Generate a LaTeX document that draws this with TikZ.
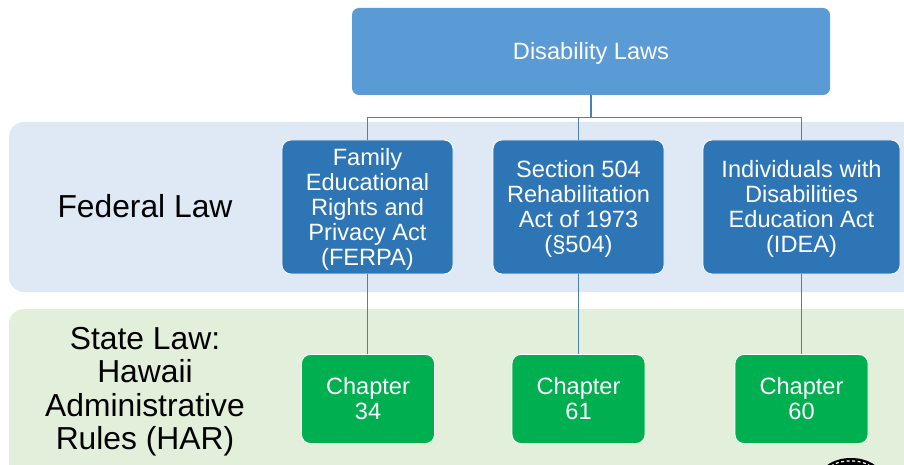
\documentclass[tikz,border=0pt]{standalone}
\usepackage{fontspec}
\setmainfont{Liberation Sans}
\usetikzlibrary{positioning}
\definecolor{toplaw}{HTML}{5B9BD5}
\definecolor{fedlaw}{HTML}{2E75B6}
\definecolor{statelaw}{HTML}{00B050}
\definecolor{fedband}{HTML}{DEE9F5}
\definecolor{stateband}{HTML}{E2EFDA}
\definecolor{linkcol}{HTML}{4A80B4}
\newcommand{\lawstrut}{\rule{0pt}{21pt}}
\tikzset{
  lawbox/.style={rounded corners=9pt, draw=white, line width=0.8pt, align=center,
    text=white, font=\fontsize{23.6}{25}\selectfont, inner sep=0pt},
  fedbox/.style={lawbox, fill=fedlaw, minimum height=134pt},
  statebox/.style={lawbox, fill=statelaw, minimum width=133pt, minimum height=89pt},
  bandlabel/.style={align=center, text=black, font=\fontsize{31.8}{33.4}\selectfont},
  link/.style={draw=linkcol, line width=1.4pt}
}
\begin{document}
\begin{tikzpicture}[x=1pt, y=-1pt]
\useasboundingbox (0,0) rectangle (904,465);
\begin{scope}
\clip (0,0) rectangle (904,465);
% bands
\fill[fedband, rounded corners=15pt] (9,122) rectangle (930,292);
\fill[stateband, rounded corners=15pt] (9,309) rectangle (930,490);
% seal at the bottom edge
\fill[black] (851,476) ellipse (30pt and 18pt);
\draw[white, line width=1.2pt, dash pattern=on 3pt off 2.5pt] (831,466) arc (145:35:24pt and 12pt);
\end{scope}

\node[bandlabel] (fedlabel) at (145,206.5) {Federal Law};
\node[bandlabel] (statelabel) at (145,391.5) {State Law:\\Hawaii\\Administrative\\Rules (HAR)};

\node[lawbox, fill=toplaw, rounded corners=7pt, draw=none, minimum width=478pt, minimum height=87pt] (top) at (591,51.5) {\lawstrut Disability Laws};

% federal row
\node[fedbox, minimum width=171pt] (ferpa) at (367.5,207) {\lawstrut Family\\Educational\\Rights and\\Privacy Act\\(FERPA)};
\node[fedbox, minimum width=171pt] (sec504) at (578.5,207) {\lawstrut Section 504\\Rehabilitation\\Act of 1973\\(§504)};
\node[fedbox, minimum width=197pt] (idea) at (801.5,207) {\lawstrut Individuals with\\Disabilities\\Education Act\\(IDEA)};

% state row
\node[statebox] (ch34) at (368,399) {Chapter\\34};
\node[statebox] (ch61) at (578.5,399) {Chapter\\61};
\node[statebox] (ch60) at (801.5,399) {Chapter\\60};

\coordinate (bus) at (591,117.5);
\draw[link] (top.south) -- (bus);
\draw[link] (ferpa.north) |- (bus);
\draw[link] (sec504.north) |- (bus);
\draw[link] (idea.north) |- (bus);

\draw[link] (ferpa.south) -- (ch34.north -| ferpa.south);
\draw[link] (sec504.south) -- (ch61.north -| sec504.south);
\draw[link] (idea.south) -- (ch60.north -| idea.south);
\end{tikzpicture}
\end{document}
